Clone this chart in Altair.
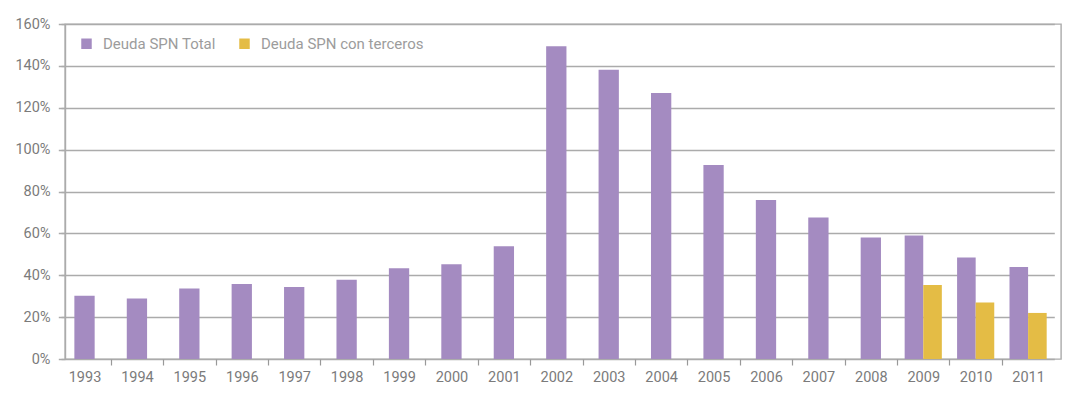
import altair as alt
import pandas as pd

# ---- data ----
years = ["1993", "1994", "1995", "1996", "1997", "1998", "1999", "2000", "2001",
         "2002", "2003", "2004", "2005", "2006", "2007", "2008", "2009", "2010", "2011"]
deuda_total = [30.2, 28.9, 33.7, 35.8, 34.4, 37.9, 43.3, 45.3, 53.9,
               149.4, 138.2, 127.1, 92.6, 75.9, 67.6, 58.0, 59.0, 48.5, 43.9]
deuda_terceros = [None, None, None, None, None, None, None, None, None,
                  None, None, None, None, None, None, None, 35.3, 27.0, 22.0]
series = ["Deuda SPN Total", "Deuda SPN con terceros"]
colors = ["#a48bc1", "#e4bc45"]
y_ticks = [0, 20, 40, 60, 80, 100, 120, 140, 160]

rows = []
for i, yr in enumerate(years):
    has_pair = deuda_terceros[i] is not None
    rows.append({"anio": yr, "serie": series[0], "valor": deuda_total[i], "par": has_pair})
    if has_pair:
        rows.append({"anio": yr, "serie": series[1], "valor": deuda_terceros[i], "par": True})
df = pd.DataFrame(rows)

GRID = "#ababab"
TXT = "#7b7b7b"
W, H = 996, 335
BAND = W / len(years)

x_enc = alt.X(
    "anio:N",
    sort=years,
    title=None,
    scale=alt.Scale(range=[-6.7, W - 6.7], paddingInner=0, paddingOuter=0),
    axis=alt.Axis(
        domain=False,
        grid=False,
        labelAngle=0,
        labelFontSize=14.5,
        labelColor=TXT,
        labelPadding=5,
        tickSize=6,
        tickColor={"condition": {"test": "datum.value == '2011'", "value": "transparent"}, "value": "#999999"},
        tickWidth=1.2,
        tickOffset=BAND / 2,
        labelOffset=-BAND / 2,
    ),
)
y_enc = alt.Y(
    "valor:Q",
    title=None,
    scale=alt.Scale(domain=[0, 160], nice=False),
    axis=alt.Axis(
        values=y_ticks,
        labelExpr="datum.value + '%'",
        grid=True,
        gridColor=GRID,
        gridWidth=1.4,
        domainColor=GRID,
        domainWidth=1.4,
        tickColor=GRID,
        tickWidth=1.4,
        tickSize=4,
        labelPadding=11,
        labelFontSize=14.5,
        labelColor=TXT,
    ),
)
color_enc = alt.Color(
    "serie:N",
    title=None,
    scale=alt.Scale(domain=series, range=colors),
    legend=alt.Legend(
        orient="none",
        legendX=14,
        legendY=12,
        direction="horizontal",
        symbolType="square",
        symbolSize=110,
        symbolStrokeWidth=0,
        labelFontSize=15,
        labelColor="#9c9c9c",
        labelOffset=9,
        labelLimit=400,
        columnPadding=21,
    ),
)

base = alt.Chart(df).encode(x=x_enc, y=y_enc, color=color_enc)

single = base.transform_filter("!datum.par").mark_bar(size=20.3)
paired = base.transform_filter("datum.par").mark_bar().encode(
    xOffset=alt.XOffset(
        "serie:N",
        sort=series,
        scale=alt.Scale(domain=series, paddingInner=0, paddingOuter=0.41),
    )
)

chart = (
    alt.layer(single, paired)
    .properties(
        width=W,
        height=H,
        autosize=alt.AutoSizeParams(type="none"),
        padding={"left": 57, "top": 16, "right": 10, "bottom": 30},
    )
    .configure(font="Roboto")
    .configure_view(stroke=GRID, strokeWidth=1.4)
)

chart.save("out.html", embed_options={"renderer": "svg", "actions": False})
